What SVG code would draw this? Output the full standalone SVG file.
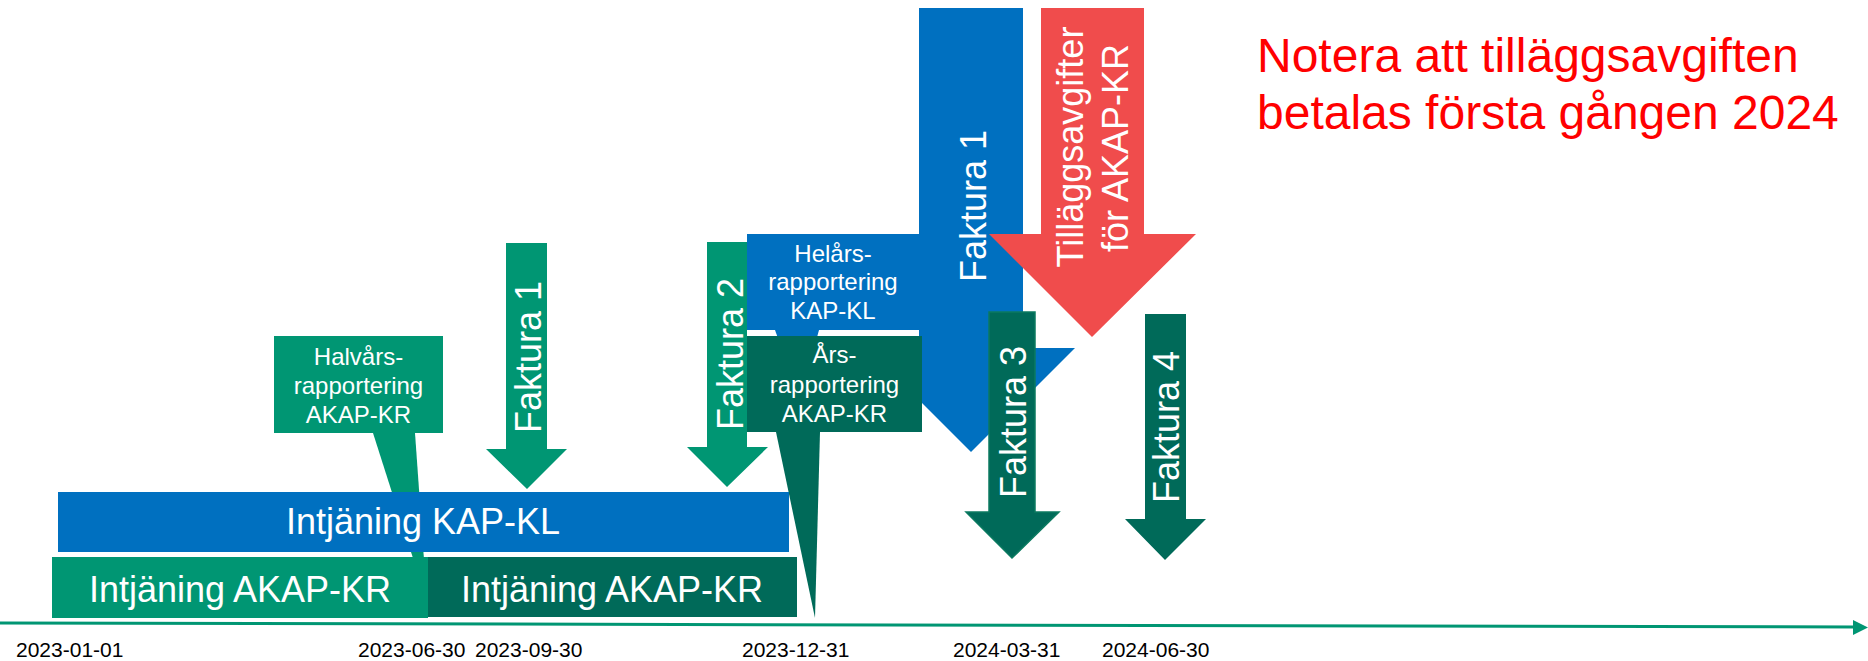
<svg xmlns="http://www.w3.org/2000/svg" width="1868" height="661" viewBox="0 0 1868 661">
<style>
.g{fill:#009673}
.dg{fill:#006A59}
.b{fill:#0070C0}
.r{fill:#F04C4C}
.t{font-family:"Liberation Sans",Arial,sans-serif;fill:#fff}
.big{font-size:36px}
.sm{font-size:24px}
.date{font-family:"Liberation Sans",Arial,sans-serif;font-size:21px;fill:#000}
.mid{text-anchor:middle}
</style>
<rect width="1868" height="661" fill="#fff"/>
<g id="connectors">
  <line x1="0" y1="623" x2="1856" y2="627" stroke="#009673" stroke-width="3"/>
  <polygon points="1853,620 1868,627.5 1853,635" fill="#009673"/>
</g>
<g id="dates">
  <text class="date" x="16" y="657">2023-01-01</text>
  <text class="date" x="358" y="657">2023-06-30</text>
  <text class="date" x="475" y="657">2023-09-30</text>
  <text class="date" x="742" y="657">2023-12-31</text>
  <text class="date" x="953" y="657">2024-03-31</text>
  <text class="date" x="1102" y="657">2024-06-30</text>
</g>
<g id="halvars">
  <polygon class="g" points="373,433 415,433 427,602"/>
  <rect class="g" x="274" y="336" width="169" height="97"/>
  <text class="t sm mid" x="358.5" y="365">Halvårs-</text>
  <text class="t sm mid" x="358.5" y="394">rapportering</text>
  <text class="t sm mid" x="358.5" y="423">AKAP-KR</text>
</g>
<g id="ars-tail">
  <polygon class="dg" points="776,432 820,432 815,618"/>
</g>
<g id="intjaning-kapkl">
  <rect class="b" x="58" y="492" width="731" height="60"/>
  <text class="t big mid" x="423" y="534">Intjäning KAP-KL</text>
</g>
<g id="intjaning-akapkr-1">
  <rect class="g" x="52" y="557" width="376" height="61"/>
  <text class="t big mid" x="240" y="602">Intjäning AKAP-KR</text>
</g>
<g id="intjaning-akapkr-2">
  <rect class="dg" x="428" y="557" width="369" height="60"/>
  <text class="t big mid" x="612" y="602">Intjäning AKAP-KR</text>
</g>
<g id="faktura1-2023">
  <polygon class="g" points="506,243 547,243 547,449 567,449 527,489 486,449 506,449"/>
  <text class="t big mid" transform="translate(541,357) rotate(-90)">Faktura 1</text>
</g>
<g id="faktura2-2023">
  <polygon class="g" points="707,242 747,242 747,447 768,447 727,487 687,447 707,447"/>
  <text class="t big mid" transform="translate(743,354) rotate(-90)">Faktura 2</text>
</g>
<g id="helars">
  <polygon class="b" points="775,330 819,330 800,400"/>
  <rect class="b" x="747" y="234" width="174" height="96"/>
  <text class="t sm mid" x="833" y="262">Helårs-</text>
  <text class="t sm mid" x="833" y="290">rapportering</text>
  <text class="t sm mid" x="833" y="319">KAP-KL</text>
</g>
<g id="faktura1-2024">
  <polygon class="b" points="919,8 1023,8 1023,348 1075,348 971,452 867,348 919,348"/>
  <text class="t big mid" transform="translate(986,206) rotate(-90)">Faktura 1</text>
</g>
<g id="ars">
  <rect class="dg" x="747" y="336" width="175" height="96"/>
  <text class="t sm mid" x="834.5" y="363">Års-</text>
  <text class="t sm mid" x="834.5" y="393">rapportering</text>
  <text class="t sm mid" x="834.5" y="422">AKAP-KR</text>
</g>
<g id="tillaggsavgifter">
  <polygon class="r" points="1041,8 1144,8 1144,234 1196,234 1092,337 989,234 1041,234"/>
  <text class="t big mid" transform="translate(1083,147) rotate(-90)">Tilläggsavgifter</text>
  <text class="t big mid" transform="translate(1128,148) rotate(-90)">för AKAP-KR</text>
</g>
<g id="faktura3">
  <polygon class="dg" stroke="#0B7A60" stroke-width="1.5" points="989,312 1035,312 1035,512 1059,512 1012,558 966,512 989,512"/>
  <text class="t big mid" transform="translate(1026,422) rotate(-90)">Faktura 3</text>
</g>
<g id="faktura4">
  <polygon class="dg" points="1145,314 1186,314 1186,519 1206,519 1165,560 1125,519 1145,519"/>
  <text class="t big mid" transform="translate(1179,427) rotate(-90)">Faktura 4</text>
</g>
<g id="note">
  <text x="1257" y="72" font-family="Liberation Sans, Arial, sans-serif" font-size="48" fill="#FF0000">Notera att tilläggsavgiften</text>
  <text x="1257" y="129" font-family="Liberation Sans, Arial, sans-serif" font-size="48" fill="#FF0000">betalas första gången 2024</text>
</g>
</svg>
